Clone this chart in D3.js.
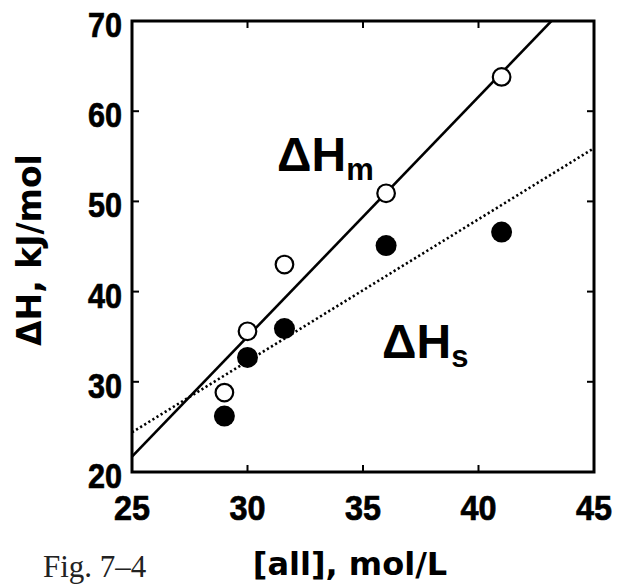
<!DOCTYPE html>
<html>
<head>
<meta charset="utf-8">
<script src="https://cdn.jsdelivr.net/npm/d3@7"></script>
<style>
  html, body { margin: 0; padding: 0; background: #fff; }
  svg { display: block; }
  .tick { font-family: "Liberation Sans", Arial, sans-serif; font-weight: bold; fill: #000; stroke: #000; stroke-width: 0.7; }
  .title { font-family: "DejaVu Sans", Verdana, sans-serif; font-weight: bold; fill: #000; }
  .series { font-family: "Liberation Sans", Arial, sans-serif; font-weight: bold; fill: #000; }
  .serif { font-family: "Liberation Serif", "DejaVu Serif", serif; fill: #222; }
</style>
</head>
<body>
<svg id="chart" width="617" height="584"></svg>
<script>
// Concentration of [all] (mol/L) for each sample
const conc = [29, 30, 31.6, 36, 41];
// Enthalpy of melting, ΔHm (open circles), kJ/mol
const dHm = [28.8, 35.6, 43.0, 50.9, 63.8];
// Enthalpy of solution, ΔHs (filled circles), kJ/mol
const dHs = [26.2, 32.7, 35.9, 45.1, 46.6];
// Linear fits: values at the two ends of the concentration axis
const fitX = [25, 45];
const fitM = [21.7, 74.9];
const fitS = [24.4, 55.9];
// Axis ticks
const xTicks = [25, 30, 35, 40, 45];
const yTicks = [20, 30, 40, 50, 60, 70];

const svg = d3.select("#chart");
const L = 132, R = 594, T = 21, B = 472;

const x = d3.scaleLinear().domain([25, 45]).range([L, R]);
const y = d3.scaleLinear().domain([20, 70]).range([B, T]);

svg.append("clipPath").attr("id", "plot")
  .append("rect").attr("x", L).attr("y", T).attr("width", R - L).attr("height", B - T);

const g = svg.append("g");

// fit lines
const line = d3.line().x(d => x(d[0])).y(d => y(d[1]));
g.append("path").attr("clip-path", "url(#plot)")
  .attr("d", line(fitX.map((v, i) => [v, fitM[i]])))
  .attr("fill", "none").attr("stroke", "#000").attr("stroke-width", 2.6);
g.append("path").attr("clip-path", "url(#plot)")
  .attr("d", line(fitX.map((v, i) => [v, fitS[i]])))
  .attr("fill", "none").attr("stroke", "#000").attr("stroke-width", 2.6)
  .attr("stroke-dasharray", "2.2 2.6");

// ticks inside the frame on all four sides
const tl = 7;
const innerX = xTicks.slice(1, -1);
const innerY = yTicks.slice(1, -1);
innerX.forEach(v => {
  g.append("line").attr("x1", x(v)).attr("x2", x(v)).attr("y1", B).attr("y2", B - tl).attr("stroke", "#000").attr("stroke-width", 2);
  g.append("line").attr("x1", x(v)).attr("x2", x(v)).attr("y1", T).attr("y2", T + tl).attr("stroke", "#000").attr("stroke-width", 2);
});
innerY.forEach(v => {
  g.append("line").attr("x1", L).attr("x2", L + tl).attr("y1", y(v)).attr("y2", y(v)).attr("stroke", "#000").attr("stroke-width", 2);
  g.append("line").attr("x1", R).attr("x2", R - tl).attr("y1", y(v)).attr("y2", y(v)).attr("stroke", "#000").attr("stroke-width", 2);
});

// frame
g.append("rect").attr("x", L).attr("y", T).attr("width", R - L).attr("height", B - T)
  .attr("fill", "none").attr("stroke", "#000").attr("stroke-width", 3);

// data markers
conc.forEach((c, i) => {
  g.append("circle").attr("cx", x(c)).attr("cy", y(dHs[i])).attr("r", 10.5).attr("fill", "#000");
});
conc.forEach((c, i) => {
  g.append("circle").attr("cx", x(c)).attr("cy", y(dHm[i])).attr("r", 8.8)
    .attr("fill", "#fff").attr("stroke", "#000").attr("stroke-width", 2.2);
});

// tick labels (heavy, slightly condensed digits)
yTicks.forEach(v => {
  svg.append("text").attr("class", "tick").attr("x", L - 10).attr("y", y(v) + 16)
    .attr("text-anchor", "end").attr("font-size", 35)
    .attr("textLength", 34).attr("lengthAdjust", "spacingAndGlyphs").text(v);
});
xTicks.forEach(v => {
  svg.append("text").attr("class", "tick").attr("x", x(v)).attr("y", B + 48)
    .attr("text-anchor", "middle").attr("font-size", 35)
    .attr("textLength", 36).attr("lengthAdjust", "spacingAndGlyphs").text(v);
});

// series labels
const lm = svg.append("text").attr("class", "series").attr("x", 277).attr("y", 171).attr("font-size", 48);
lm.append("tspan").text("ΔH");
lm.append("tspan").attr("font-size", 31).attr("dy", 9).text("m");

const ls = svg.append("text").attr("class", "series").attr("x", 382).attr("y", 358).attr("font-size", 48);
ls.append("tspan").text("ΔH");
ls.append("tspan").attr("font-size", 31).attr("dy", 9).text("s");

// axis titles
svg.append("text").attr("class", "title").attr("font-size", 33)
  .attr("text-anchor", "middle")
  .attr("transform", "translate(41,250) rotate(-90)")
  .text("ΔH, kJ/mol");
svg.append("text").attr("class", "title").attr("font-size", 32)
  .attr("text-anchor", "middle").attr("x", 350).attr("y", 575)
  .text("[all], mol/L");
svg.append("text").attr("class", "serif").attr("font-size", 31)
  .attr("x", 43).attr("y", 577).text("Fig. 7–4");
</script>
</body>
</html>
